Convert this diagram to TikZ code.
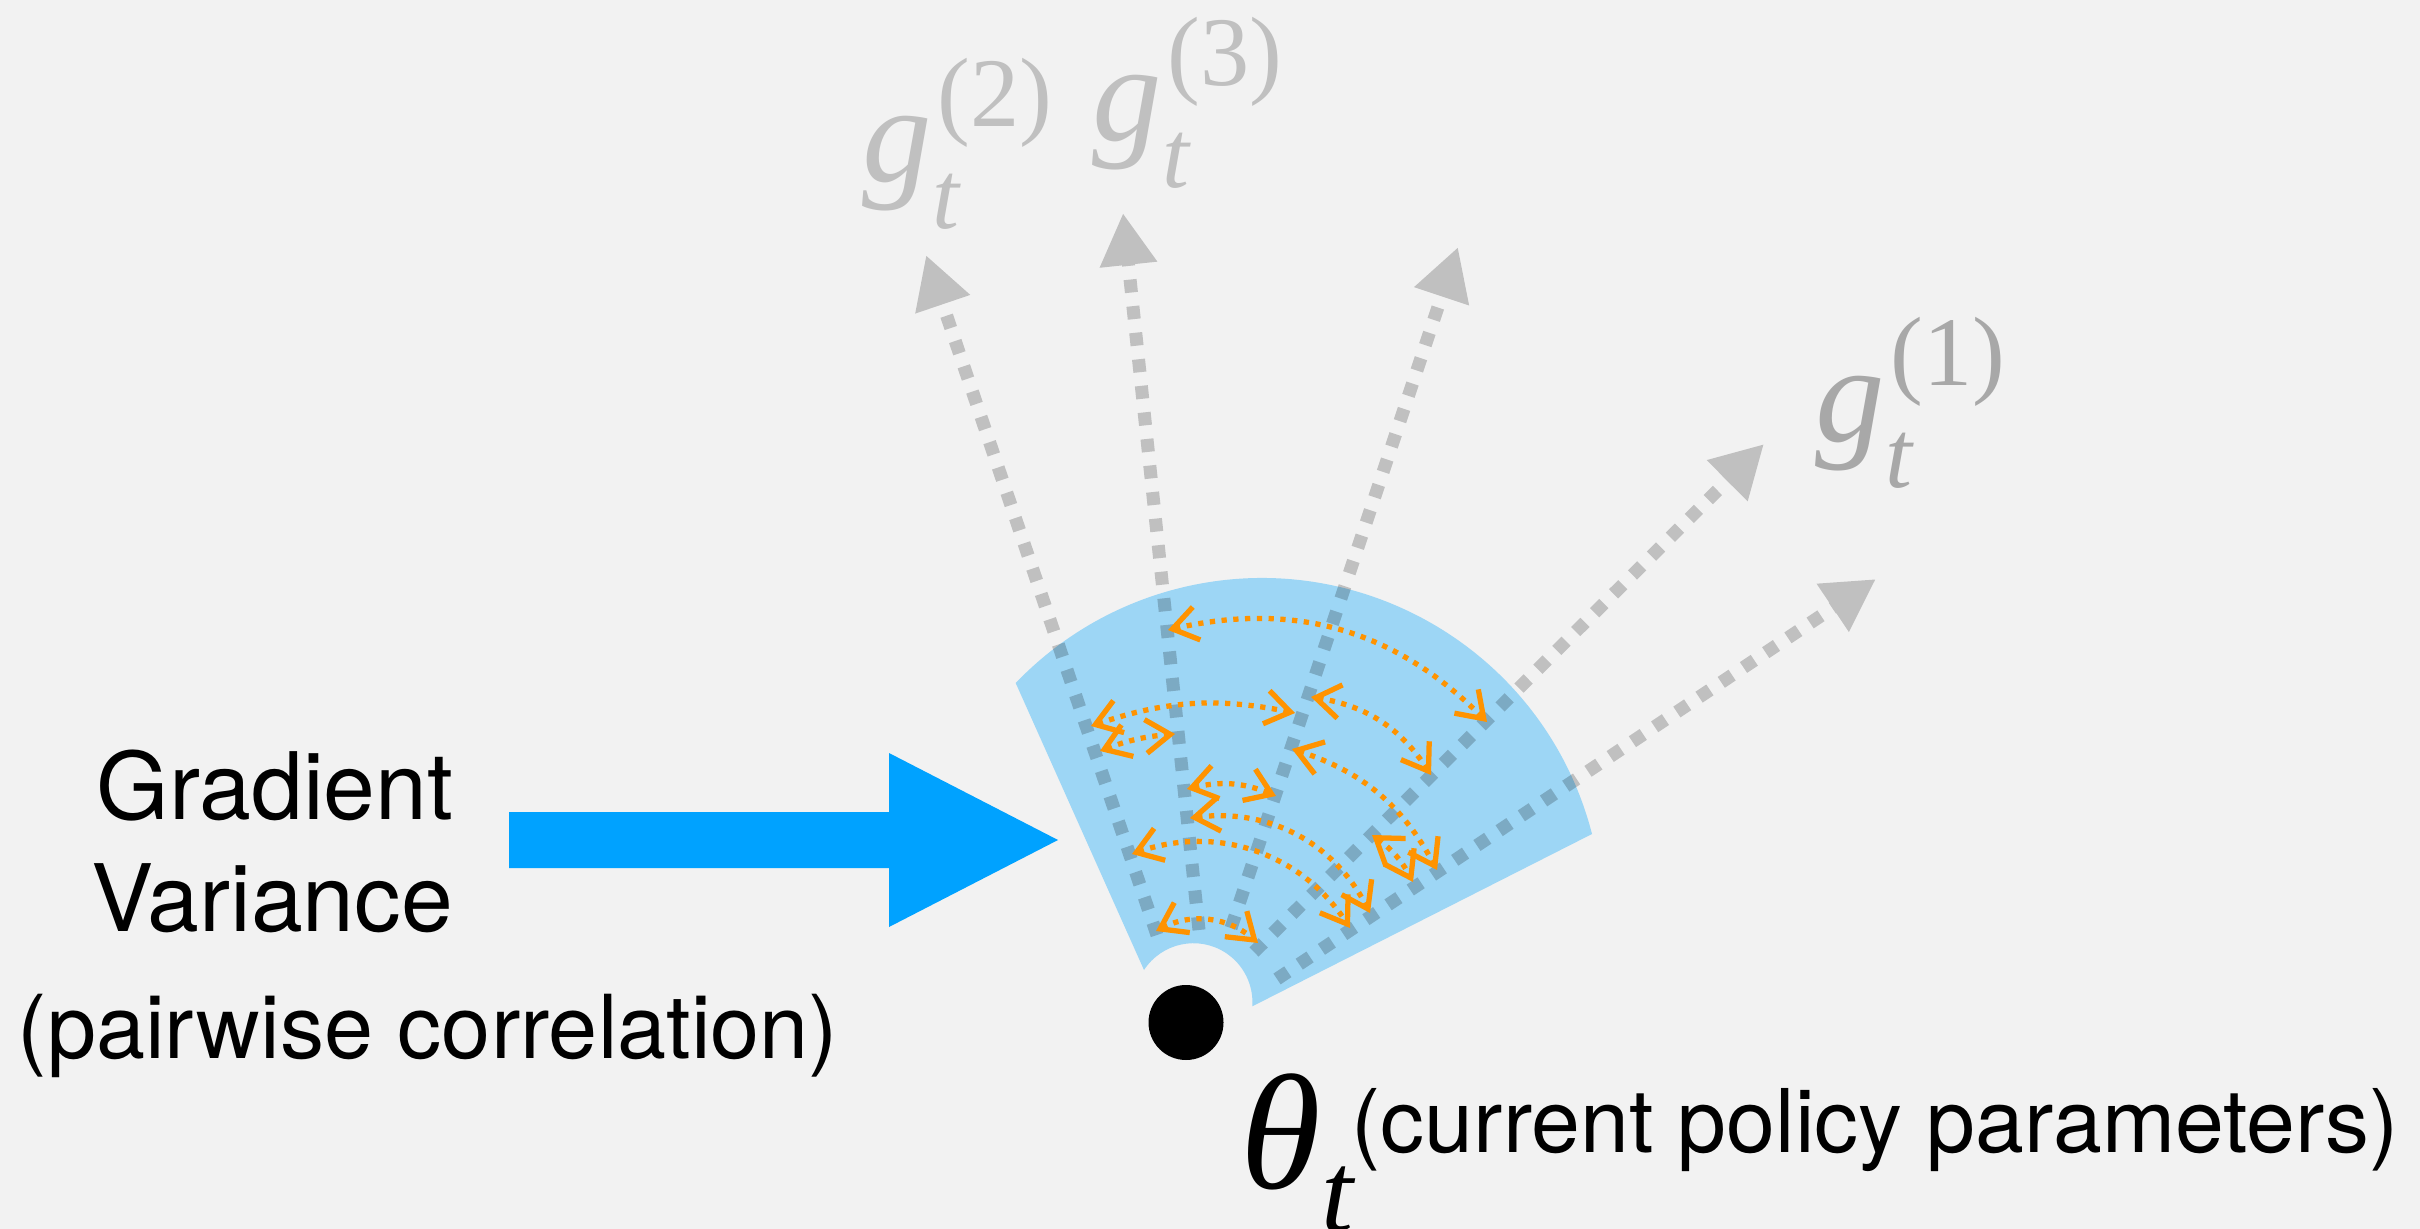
\documentclass[tikz,border=0pt]{standalone}
\usepackage{fontspec}
\setmainfont{TeX Gyre Heros}
\newfontfamily\tms{Liberation Serif}
\usetikzlibrary{arrows.meta}

\definecolor{bgc}{HTML}{F2F2F2}
\definecolor{fanc}{HTML}{9DD6F5}
\definecolor{pushc}{HTML}{00A2FF}
\definecolor{corrc}{HTML}{FF9300}
\definecolor{lblc}{HTML}{C0C0C0}
\definecolor{lbld}{HTML}{A8A8A8}

% g_t^{(k)} built by hand: italic g, subscript t and superscript (k)
\newcommand\gvec[2]{{\color{#2}\tms\fontsize{39.5}{40}\selectfont\itshape g%
  \rlap{\raisebox{-13.1pt}{\fontsize{27.5}{28}\selectfont t}}%
  \hspace{1.6pt}\raisebox{15.9pt}{\fontsize{28}{28}\selectfont\upshape (#1)}}}

\begin{document}
\begin{tikzpicture}[x=0.1mm, y=0.1mm,
  gline/.style={line width=3.7pt, dash pattern=on 3.7pt off 3.9pt,
    draw=black, -{Triangle[length=14.8pt,width=15.4pt]}},
  corr/.style={draw=corrc, line width=1.5pt, dash pattern=on 1.5pt off 1.85pt,
    >={Straight Barb[length=7pt,width=9.6pt]}, <->},
  lbl/.style={anchor=base west, inner sep=0pt},
  txt/.style={anchor=base, inner sep=0pt}]

% canvas
\fill[bgc] (0,0) rectangle (2420,-1229);
\useasboundingbox (0,0) rectangle (2420,-1229);

% shaded fan with a notch around the current parameters
\fill[fanc] (1592,-834) arc[start angle=14.44, end angle=136.2, radius=341]
  -- (1144,-970) arc[start angle=146.9, end angle=-4, radius=59] -- cycle;

% gradient samples: start and tip of each dotted arrow
\coordinate (s2) at (1157,-935);  \coordinate (t2) at (926,-255);
\coordinate (s3) at (1199,-930);  \coordinate (t3) at (1123,-213);
\coordinate (sC) at (1231,-928);  \coordinate (tC) at (1458,-247);
\coordinate (s1) at (1254,-952);  \coordinate (t1) at (1764,-444);
\coordinate (sE) at (1277,-979);  \coordinate (tE) at (1876,-579);

\begin{scope}[transparency group, opacity=0.205]
  \draw[gline] (s2) -- (t2);
  \draw[gline] (s3) -- (t3);
  \draw[gline] (sC) -- (tC);
  \draw[gline] (s1) -- (t1);
  \draw[gline] (sE) -- (tE);
\end{scope}

% pairwise correlation links between the samples
\coordinate (p31a) at (1168,-630);  \coordinate (p31b) at (1487,-722);
\coordinate (p2Ca) at (1091,-726);  \coordinate (p2Cb) at (1295,-713);
\coordinate (p23a) at (1100,-751);  \coordinate (p23b) at (1175,-734);
\coordinate (pC1a) at (1311,-697);  \coordinate (pC1b) at (1431,-775);
\coordinate (pCEa) at (1292,-749);  \coordinate (pCEb) at (1437,-870);
\coordinate (p3Ca) at (1187,-789);  \coordinate (p3Cb) at (1276,-796);
\coordinate (p3Ea) at (1190,-818);  \coordinate (p3Eb) at (1370,-913);
\coordinate (p2Ea) at (1132,-854);  \coordinate (p2Eb) at (1350,-928);
\coordinate (p1Ea) at (1372,-835);  \coordinate (p1Eb) at (1413,-882);
\coordinate (p21a) at (1156,-931);  \coordinate (p21b) at (1258,-943);

\draw[corr] (p31a) to[bend left=29] (p31b);
\draw[corr] (p2Ca) to[bend left=15] (p2Cb);
\draw[corr] (p23a) to[bend left=8]  (p23b);
\draw[corr] (pC1a) to[bend left=24] (pC1b);
\draw[corr] (pCEa) to[bend left=22] (pCEb);
\draw[corr] (p3Ca) to[bend left=18] (p3Cb);
\draw[corr] (p3Ea) to[bend left=35] (p3Eb);
\draw[corr] (p2Ea) to[bend left=38] (p2Eb);
\draw[corr] (p1Ea) to[bend left=13] (p1Eb);
\draw[corr] (p21a) to[bend left=34] (p21b);

% current parameters
\node[circle, fill=black, minimum size=7.5mm, inner sep=0pt] (theta0) at (1186,-1022.5) {};

% gradient labels
\node[lbl] (g2) at (862,-182) {\gvec{2}{lblc}};
\node[lbl] (g3) at (1092,-141) {\gvec{3}{lblc}};
\node[lbl] (g1) at (1815,-441) {\gvec{1}{lbld}};

% theta_t and its caption
\node[lbl] (thl) at (1240,-1188) {\tms\fontsize{46.7}{47}\selectfont\itshape θ%
  \raisebox{-12.5pt}{\fontsize{32.7}{33}\selectfont t}};
\node[lbl, font=\fontsize{25}{27}\selectfont] (cpp) at (1351,-1152) {(current policy parameters)};

% left caption and push arrow
\node[txt, font=\fontsize{26.5}{28}\selectfont] (gr) at (275,-819) {Gradient};
\node[txt, font=\fontsize{26.5}{28}\selectfont] (va) at (272,-931) {Variance};
\node[txt, font=\fontsize{25.1}{27}\selectfont] (pc) at (428,-1058) {(pairwise correlation)};

\fill[pushc] (509,-812) -- (889,-812) -- (889,-753) -- (1058,-840)
  -- (889,-927) -- (889,-868) -- (509,-868) -- cycle;

\end{tikzpicture}
\end{document}
